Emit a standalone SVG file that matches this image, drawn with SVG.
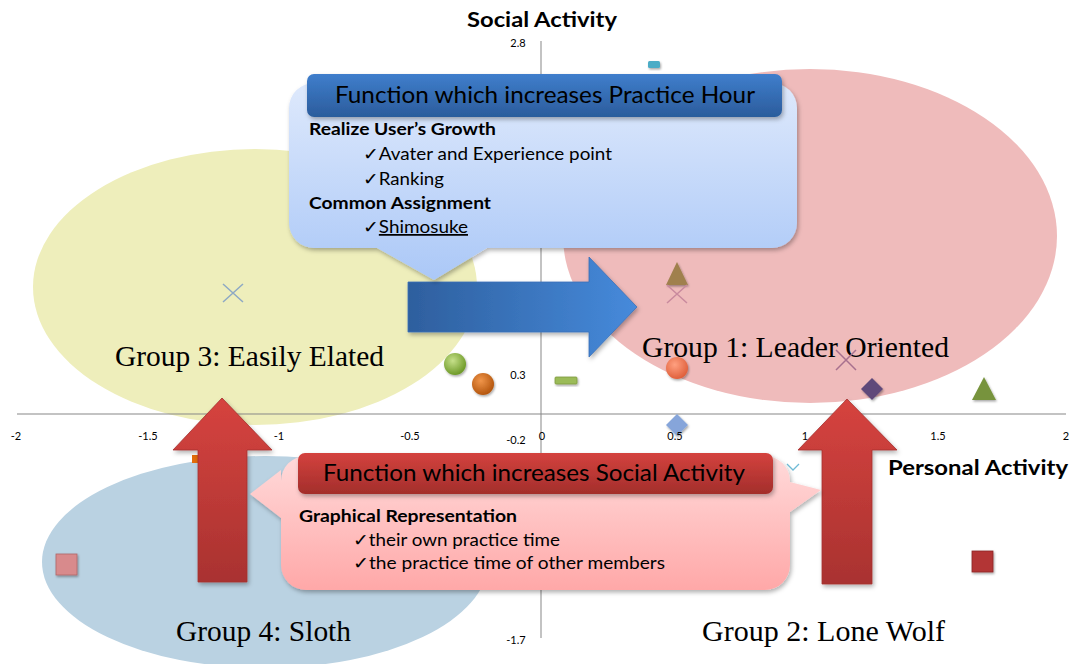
<svg xmlns="http://www.w3.org/2000/svg" width="1073" height="664" viewBox="0 0 1073 664">
<defs>
<style>
.tick{font-family:Lato,"Liberation Sans",sans-serif;font-size:11px;fill:#000;text-anchor:middle}
.axt{font-family:Lato,"Liberation Sans",sans-serif;font-weight:bold;fill:#000}
.grp{font-family:"Liberation Serif",serif;font-size:29.5px;fill:#000}
.hd{font-family:Lato,"DejaVu Sans",sans-serif;font-size:23px;fill:#000;text-anchor:middle}
.bd{font-family:Lato,"DejaVu Sans",sans-serif;font-size:17.5px;fill:#000}
.bb{font-family:Lato,"DejaVu Sans",sans-serif;font-size:17.5px;font-weight:bold;fill:#000}
.axis{stroke:#878787;stroke-width:1;fill:none}
</style>
<linearGradient id="gBlueBox" x1="0" y1="0" x2="0" y2="1"><stop offset="0" stop-color="#DEE9FC"/><stop offset="1" stop-color="#ABC8F7"/></linearGradient>
<linearGradient id="gBlueHead" x1="0" y1="0" x2="0" y2="1"><stop offset="0" stop-color="#3F7ECC"/><stop offset="1" stop-color="#2B5C9C"/></linearGradient>
<linearGradient id="gRedBox" x1="0" y1="0" x2="0" y2="1"><stop offset="0" stop-color="#FFDADA"/><stop offset="1" stop-color="#FFA8A8"/></linearGradient>
<linearGradient id="gRedHead" x1="0" y1="0" x2="0" y2="1"><stop offset="0" stop-color="#D4423E"/><stop offset="1" stop-color="#A32E2B"/></linearGradient>
<linearGradient id="gRedArrow" x1="0" y1="0" x2="0" y2="1"><stop offset="0" stop-color="#D6433F"/><stop offset="1" stop-color="#A93230"/></linearGradient>
<linearGradient id="gBlueArrow" x1="0" y1="0" x2="1" y2="0"><stop offset="0" stop-color="#2E5F9E"/><stop offset="1" stop-color="#468ADB"/></linearGradient>
<radialGradient id="sGreen" cx="0.4" cy="0.35" r="0.65"><stop offset="0" stop-color="#C6E08A"/><stop offset="1" stop-color="#6E9A28"/></radialGradient>
<radialGradient id="sOrange" cx="0.4" cy="0.35" r="0.65"><stop offset="0" stop-color="#F0954A"/><stop offset="1" stop-color="#B4560E"/></radialGradient>
<radialGradient id="sCoral" cx="0.4" cy="0.35" r="0.65"><stop offset="0" stop-color="#FFA080"/><stop offset="1" stop-color="#E0603C"/></radialGradient>
<filter id="sh" x="-10%" y="-10%" width="120%" height="130%"><feDropShadow dx="1.5" dy="2.5" stdDeviation="2" flood-color="#000" flood-opacity="0.3"/></filter>
<filter id="shs" x="-30%" y="-30%" width="160%" height="160%"><feDropShadow dx="1" dy="1.5" stdDeviation="1" flood-color="#000" flood-opacity="0.35"/></filter>
</defs>

<rect width="1073" height="664" fill="#FFFFFF"/>

<g id="group3">
<ellipse cx="255" cy="287" rx="222" ry="138" fill="#EEEEBB"/>
</g>
<g id="group1">
<ellipse cx="810" cy="236" rx="247" ry="167" fill="#EFBBBB"/>
</g>
<g id="group4">
<ellipse cx="265" cy="562" rx="223" ry="106" fill="#BAD2E2"/>
</g>

<g id="axes">
<line class="axis" x1="17" y1="414" x2="1066" y2="414"/>
<line class="axis" x1="541" y1="41" x2="541" y2="638"/>
<text class="axt" x="542" y="27" font-size="21" text-anchor="middle" textLength="150" lengthAdjust="spacingAndGlyphs">Social Activity</text>
<text class="axt" x="888" y="475" font-size="20" textLength="180" lengthAdjust="spacingAndGlyphs">Personal Activity</text>
</g>

<g id="group-labels">
<text class="grp" x="115" y="366" textLength="269" lengthAdjust="spacingAndGlyphs">Group 3: Easily Elated</text>
<text class="grp" x="642" y="357" textLength="307" lengthAdjust="spacingAndGlyphs">Group 1: Leader Oriented</text>
<text class="grp" x="176" y="641" textLength="175" lengthAdjust="spacingAndGlyphs">Group 4: Sloth</text>
<text id="group2" class="grp" x="702" y="641" textLength="243" lengthAdjust="spacingAndGlyphs">Group 2: Lone Wolf</text>
</g>

<g id="markers">
<rect x="648" y="61" width="12" height="7" rx="1.5" fill="#4BACC6" filter="url(#shs)"/>
<path d="M677,262 L688,285 L666,285 Z" fill="#A0804E" filter="url(#shs)"/>
<path d="M667,285 L687,303 M687,285 L667,303" stroke="#C98A9E" stroke-width="1.5"/>
<path d="M223,284 L243,302 M243,284 L223,302" stroke="#8EA9C4" stroke-width="1.5"/>
<circle cx="455" cy="364" r="11" fill="url(#sGreen)" filter="url(#shs)"/>
<circle cx="483" cy="384" r="11" fill="url(#sOrange)" filter="url(#shs)"/>
<rect x="555" y="377" width="22" height="7" rx="1" fill="#9BBB59" stroke="#7E9B40" stroke-width="0.8" filter="url(#shs)"/>
<circle cx="677" cy="368" r="11" fill="url(#sCoral)" filter="url(#shs)"/>
<path d="M836,350 L856,370 M856,350 L836,370" stroke="#A8708E" stroke-width="1.5"/>
<path d="M872,378 L883,389 L872,400 L861,389 Z" fill="#5F497A" filter="url(#shs)"/>
<path d="M984,377 L996,400 L972,400 Z" fill="#77933C" filter="url(#shs)"/>
<path d="M677,414 L688,425 L677,436 L666,425 Z" fill="#86A5DA" filter="url(#shs)"/>
<path d="M787,464 L793,470 L799,464" stroke="#6FBBD6" stroke-width="1.3" fill="none"/>
<rect x="192" y="455" width="8" height="8" fill="#E36C0A"/>
<rect x="56" y="554" width="21" height="21" fill="#D88A8C" stroke="#B06466" stroke-width="0.8" filter="url(#shs)"/>
<rect x="972" y="551" width="21" height="21" fill="#B33634" stroke="#8C2624" stroke-width="0.8" filter="url(#shs)"/>
</g>

<g id="tick-labels">
<text class="tick" x="16" y="440">-2</text>
<text class="tick" x="148" y="440">-1.5</text>
<text class="tick" x="279" y="440">-1</text>
<text class="tick" x="410" y="440">-0.5</text>
<text class="tick" x="542" y="440">0</text>
<text class="tick" x="675" y="440">0.5</text>
<text class="tick" x="805" y="440">1</text>
<text class="tick" x="938" y="440">1.5</text>
<text class="tick" x="1066" y="440">2</text>
<text class="tick" x="518" y="47">2.8</text>
<text class="tick" x="518" y="379">0.3</text>
<text class="tick" x="516" y="444">-0.2</text>
<text class="tick" x="516" y="644">-1.7</text>
</g>

<g id="connectors">
<path d="M408,282 L589,282 L589,257 L637,307 L589,357 L589,332 L408,332 Z" fill="url(#gBlueArrow)" stroke="#3A70B8" stroke-width="0.8" filter="url(#sh)"/>
<path d="M222,398 L272,450 L247,450 L247,582 L198,582 L198,450 L173,450 Z" fill="url(#gRedArrow)" stroke="#A5302E" stroke-width="0.8" filter="url(#sh)"/>
<path d="M847,399 L897,450 L872,450 L872,584 L822,584 L822,450 L798,450 Z" fill="url(#gRedArrow)" stroke="#A5302E" stroke-width="0.8" filter="url(#sh)"/>
</g>

<g id="callout-practice">
<path d="M314,83 H772 A25,25 0 0 1 797,108 V223 A25,25 0 0 1 772,248 H487 L434,280 L377,248 H314 A25,25 0 0 1 289,223 V108 A25,25 0 0 1 314,83 Z" fill="url(#gBlueBox)" filter="url(#sh)"/>
<rect x="307" y="74" width="475" height="43" rx="7" fill="url(#gBlueHead)" filter="url(#sh)"/>
<text class="hd" x="545" y="103" textLength="420" lengthAdjust="spacingAndGlyphs">Function which increases Practice Hour</text>
<text class="bb" x="309" y="135" textLength="187" lengthAdjust="spacingAndGlyphs">Realize User’s Growth</text>
<text class="bd" x="363" y="160" textLength="249" lengthAdjust="spacingAndGlyphs">✓Avater and Experience point</text>
<text class="bd" x="363" y="185" textLength="81" lengthAdjust="spacingAndGlyphs">✓Ranking</text>
<text class="bb" x="309" y="209" textLength="182" lengthAdjust="spacingAndGlyphs">Common Assignment</text>
<text class="bd" x="363" y="233" textLength="105" lengthAdjust="spacingAndGlyphs">✓<tspan text-decoration="underline">Shimosuke</tspan></text>
</g>

<g id="callout-social">
<path d="M306,456 H765 A25,25 0 0 1 790,481 V482 L821,490 L790,512 V565 A25,25 0 0 1 765,590 H306 A25,25 0 0 1 281,565 V518 L250,494 L281,470 V481 A25,25 0 0 1 306,456 Z" fill="url(#gRedBox)" filter="url(#sh)"/>
<rect x="298" y="453" width="475" height="41" rx="7" fill="url(#gRedHead)" filter="url(#sh)"/>
<text class="hd" x="534" y="481" textLength="422" lengthAdjust="spacingAndGlyphs">Function which increases Social Activity</text>
<text class="bb" x="299" y="522" textLength="218" lengthAdjust="spacingAndGlyphs">Graphical Representation</text>
<text class="bd" x="353" y="546" textLength="207" lengthAdjust="spacingAndGlyphs">✓their own practice time</text>
<text class="bd" x="353" y="569" textLength="312" lengthAdjust="spacingAndGlyphs">✓the practice time of other members</text>
</g>
</svg>
